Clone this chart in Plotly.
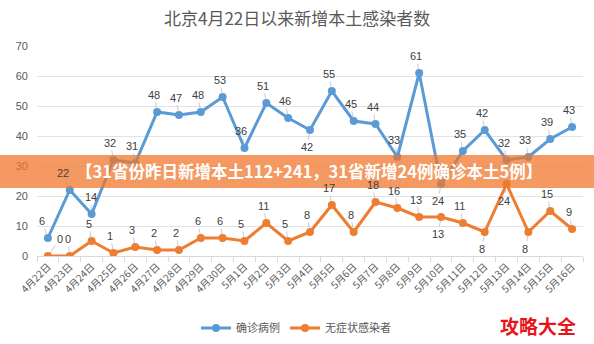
import plotly.graph_objects as go

dates = ["4月22日", "4月23日", "4月24日", "4月25日", "4月26日", "4月27日", "4月28日",
         "4月29日", "4月30日", "5月1日", "5月2日", "5月3日", "5月4日", "5月5日",
         "5月6日", "5月7日", "5月8日", "5月9日", "5月10日", "5月11日", "5月12日",
         "5月13日", "5月14日", "5月15日", "5月16日"]
confirmed = [6, 22, 14, 32, 31, 48, 47, 48, 53, 36, 51, 46, 42, 55, 45, 44, 33, 61,
             24, 35, 42, 32, 33, 39, 43]
asymptomatic = [0, 0, 5, 1, 3, 2, 2, 6, 6, 5, 11, 5, 8, 17, 8, 18, 16, 13, 13, 11,
                8, 24, 8, 15, 9]
y_ticks = [0, 10, 20, 30, 40, 50, 60, 70]

title = "北京4月22日以来新增本土感染者数"
banner = "【31省份昨日新增本土112+241，31省新增24例确诊本土5例】"
watermark = "攻略大全"

BLUE = "#5B9BD5"
ORANGE = "#ED7D31"
FONT = "Liberation Sans, Arial, Noto Sans CJK SC, sans-serif"
CJK = "Noto Sans CJK SC, sans-serif"

# label placement (index sets / offsets are styling, not data)
blue_below = {12, 18}
orange_below = {18, 20, 21, 22}
blue_ax = {0: -6, 1: -7, 2: -1}
orange_ax = {0: 12, 1: -2}

plot_left, plot_right, plot_top, plot_bottom = 37, 583, 46, 256
pw = plot_right - plot_left
ph = plot_bottom - plot_top
def px(x):
    return (x - plot_left) / pw
def py(y):
    return (plot_bottom - y) / ph

fig = go.Figure()
fig.add_trace(go.Scatter(x=dates, y=confirmed, name="确诊病例", mode="lines+markers",
                         line=dict(color=BLUE, width=3), marker=dict(size=8, color=BLUE)))
fig.add_trace(go.Scatter(x=dates, y=asymptomatic, name="无症状感染者", mode="lines+markers",
                         line=dict(color=ORANGE, width=3), marker=dict(size=8, color=ORANGE)))

for series, below, axmap in [(confirmed, blue_below, blue_ax),
                             (asymptomatic, orange_below, orange_ax)]:
    for i, (d, v) in enumerate(zip(dates, series)):
        ay = 17 if i in below else -17
        fig.add_annotation(x=d, y=v, xref="x", yref="y", text=str(v),
                           showarrow=True, arrowhead=0, arrowwidth=0.6,
                           arrowcolor="#A6A6A6", ax=axmap.get(i, -3), ay=ay, standoff=3,
                           font=dict(size=11, color="#404040", family=FONT))

fig.add_annotation(text=title, xref="paper", yref="paper", x=px(297), y=py(17),
                   showarrow=False, xanchor="center", yanchor="middle",
                   font=dict(size=17, color="#595959", family=CJK))

fig.add_shape(type="rect", xref="paper", yref="paper", x0=px(0), x1=px(594),
              y0=py(188), y1=py(155), fillcolor="rgba(240,118,42,0.74)",
              line=dict(width=0), layer="above")
fig.add_annotation(text="<b>" + banner + "</b>", xref="paper", yref="paper",
                   x=px(309), y=py(171), showarrow=False, xanchor="center",
                   yanchor="middle", font=dict(size=16.5, color="white", family=CJK))
fig.add_annotation(text="<b>" + watermark + "</b>", xref="paper", yref="paper",
                   x=px(578), y=py(325), showarrow=False, xanchor="right",
                   yanchor="middle", font=dict(size=19, color="#E8141B", family=CJK))

fig.update_layout(
    width=594, height=344,
    margin=dict(l=plot_left, r=594 - plot_right, t=plot_top, b=344 - plot_bottom,
                autoexpand=False),
    paper_bgcolor="white", plot_bgcolor="white",
    showlegend=True,
    legend=dict(orientation="h", x=px(296), xanchor="center", y=py(328), yanchor="middle",
                font=dict(size=11, color="#595959", family=CJK), itemwidth=30),
    font=dict(family=FONT, color="#595959"),
)
fig.update_xaxes(type="category", tickangle=-45, automargin=False,
                 tickfont=dict(size=10, color="#595959", family=CJK),
                 showgrid=False, showline=True, linecolor="#D9D9D9", ticks="outside",
                 tickson="boundaries", tickcolor="#D9D9D9", ticklen=5,
                 range=[-0.5, len(dates) - 0.5])
fig.update_yaxes(range=[0, 70], tickvals=y_ticks, showgrid=True, gridcolor="#E3E3E3",
                 automargin=False,
                 tickfont=dict(size=11, color="#595959"), zeroline=False, showline=False,
                 ticklabelstandoff=8)

fig.write_html("out.html")
